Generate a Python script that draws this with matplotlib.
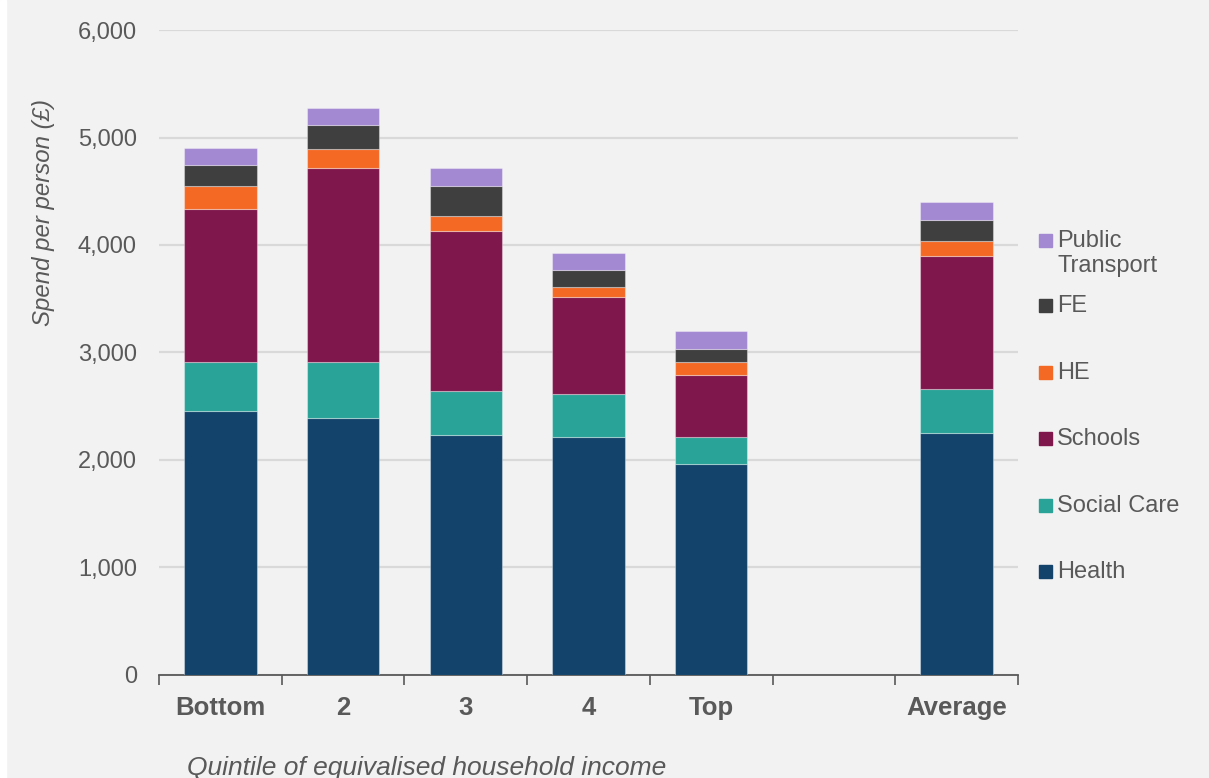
import numpy as np
import matplotlib
matplotlib.use("Agg")
import matplotlib.pyplot as plt
from matplotlib.patches import Rectangle

plt.rcParams['font.family'] = ['Liberation Sans', 'DejaVu Sans']

# Spend per person (£) by income quintile
groups = ['Bottom', '2', '3', '4', 'Top', 'Average']
health = [2455, 2387, 2229, 2210, 1959, 2251]
social_care = [452, 520, 412, 406, 255, 405]
schools = [1429, 1808, 1493, 896, 572, 1237]
he = [214, 179, 137, 93, 128, 146]
fe = [198, 220, 279, 158, 114, 195]
public_transport = [155, 158, 165, 167, 174, 164]

series = [
    ('Health', health, '#13436B'),
    ('Social Care', social_care, '#29A397'),
    ('Schools', schools, '#7F174D'),
    ('HE', he, '#F46A25'),
    ('FE', fe, '#3F3F3F'),
    ('Public\nTransport', public_transport, '#A388D2'),
]

grey = '#595959'
bg = '#F2F2F2'

fig = plt.figure(figsize=(12.09, 7.78), dpi=100, facecolor=bg)
ax = fig.add_axes([0.1315, 0.1325, 0.7105, 0.8289])
ax.set_facecolor(bg)

# leave an empty slot before the average bar
x = np.arange(len(groups), dtype=float)
x[-1] += 1

bottom = np.zeros(len(groups))
for name, vals, col in series:
    ax.bar(x, vals, width=0.59, bottom=bottom, color=col,
           edgecolor=(1, 1, 1, 0.35), linewidth=0.8, zorder=3)
    bottom += np.array(vals)

ax.set_ylim(0, 6000)
ax.set_xlim(-0.5, len(groups) + 0.5)
ax.set_yticks(np.arange(0, 6001, 1000))
ax.set_yticklabels([f'{v:,}' for v in range(0, 6001, 1000)])
ax.yaxis.grid(True, color='#D9D9D9', linewidth=1.6, zorder=0)
ax.tick_params(axis='y', length=0, pad=16, labelsize=17, labelcolor=grey)

ax.set_xticks(x)
ax.set_xticklabels(groups, fontweight='bold')
ax.set_xticks(np.arange(-0.5, len(groups) + 1), minor=True)
ax.tick_params(axis='x', which='major', length=0, pad=15, labelsize=18.5,
               labelcolor=grey)
ax.tick_params(axis='x', which='minor', length=7, width=1.2, color=grey)

for side in ['top', 'right', 'left']:
    ax.spines[side].set_visible(False)
ax.spines['bottom'].set_color(grey)
ax.spines['bottom'].set_linewidth(1.3)

fig.text(0.036, 0.7275, 'Spend per person (£)', rotation=90, style='italic',
         fontsize=17.3, color=grey, ha='center', va='center')
fig.text(0.155, 0.013, 'Quintile of equivalised household income',
         style='italic', fontsize=19, color=grey, ha='left', va='center')

# legend, top entry first
legend_y = [240, 305, 372, 438, 505, 571]
for (name, vals, col), ypx in zip(reversed(series), legend_y):
    fy = 1 - ypx / 778
    fig.patches.append(Rectangle((1039 / 1209, fy - 6.5 / 778), 13 / 1209, 13 / 778,
                                 transform=fig.transFigure, color=col))
    fig.text(1057 / 1209, fy + 10 / 778, name, fontsize=17, color=grey,
             ha='left', va='top', linespacing=1.2)

# thin white strip on the left edge
fig.patches.append(Rectangle((0, 0), 6 / 1209, 1, transform=fig.transFigure,
                             color='white'))

fig.savefig('out.png', dpi=100, facecolor=bg)
